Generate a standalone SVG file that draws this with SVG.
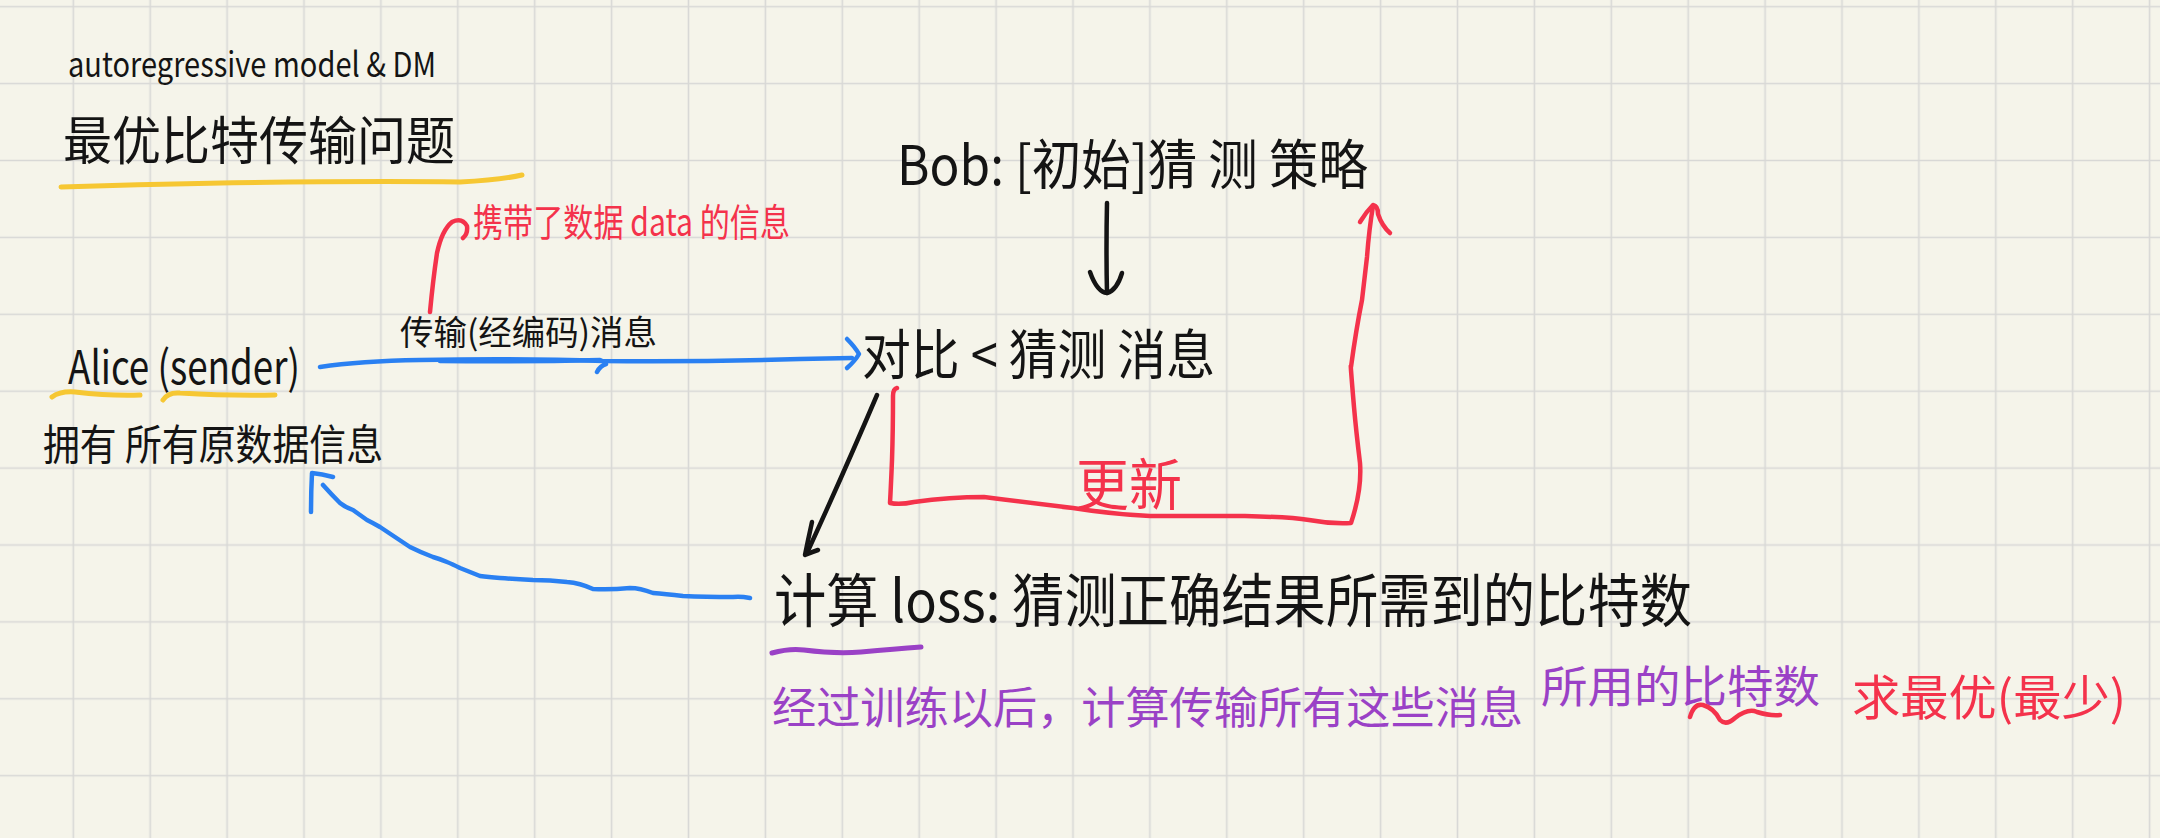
<svg xmlns="http://www.w3.org/2000/svg" width="2160" height="838" viewBox="0 0 2160 838">
<defs>
<pattern id="grid" x="-42.05" y="-31.75" width="76.9" height="76.9" patternUnits="userSpaceOnUse">
<path d="M38.45,0 V76.9 M0,38.45 H76.9" stroke="#d8d8d6" stroke-width="1.6" fill="none"/>
</pattern>
<style>
text{font-family:"Noto Sans CJK SC","Noto Sans",sans-serif;}
.k{fill:#141414;}
.r{fill:#f4324b;}
.p{fill:#9a41c6;}
.ink{fill:none;stroke-linecap:round;stroke-linejoin:round;}
.blk{stroke:#141414;stroke-width:4.5;}
.blu{stroke:#2a80f2;stroke-width:4.5;}
.red{stroke:#f4324b;stroke-width:4.5;}
.yel{stroke:#f6c733;stroke-width:5;}
.pur{stroke:#9a41c6;stroke-width:5;}
</style>
</defs>
<rect width="2160" height="838" fill="#f5f4ea"/>
<rect width="2160" height="838" fill="url(#grid)"/>

<g id="title">
<text class="k" x="68" y="77" font-size="34" textLength="368" lengthAdjust="spacingAndGlyphs">autoregressive model &amp; DM</text>
<text class="k" x="63" y="160" font-size="52" textLength="392" lengthAdjust="spacingAndGlyphs">最优比特传输问题</text>
<path class="ink yel" d="M61,187 Q300,180 460,182 Q500,180 522,175"/>
</g>

<g id="annotation">
<text class="r" x="473" y="236" font-size="38" textLength="317" lengthAdjust="spacingAndGlyphs">携带了数据 data 的信息</text>
</g>

<g id="message-label">
<text class="k" x="400" y="345" font-size="34" textLength="257" lengthAdjust="spacingAndGlyphs">传输(经编码)消息</text>
</g>

<g id="alice">
<text class="k" x="68" y="384" font-size="46" textLength="232" lengthAdjust="spacingAndGlyphs">Alice (sender)</text>
<path class="ink yel" d="M52,397 Q60,391 75,392 Q110,396 140,395"/>
<path class="ink yel" d="M163,400 Q168,392 180,393 Q230,396 275,395"/>
</g>

<g id="alice-desc">
<text class="k" x="43" y="460" font-size="42" textLength="340" lengthAdjust="spacingAndGlyphs">拥有 所有原数据信息</text>
</g>

<g id="bob-strategy">
<text class="k" x="897" y="185" font-size="54" textLength="471" lengthAdjust="spacingAndGlyphs">Bob: [初始]猜 测 策略</text>
</g>

<g id="guess-message">
<text class="k" x="862" y="375" font-size="54" textLength="353" lengthAdjust="spacingAndGlyphs">对比 &lt; 猜测 消息</text>
</g>

<g id="update-label">
<text class="r" x="1076" y="505" font-size="56" textLength="106" lengthAdjust="spacingAndGlyphs">更新</text>
</g>

<g id="loss">
<text class="k" x="774" y="622" font-size="58" textLength="918" lengthAdjust="spacingAndGlyphs">计算 loss: 猜测正确结果所需到的比特数</text>
<path class="ink pur" d="M772,653 Q790,648 804,650 Q835,654 861,652 Q895,649 921,647"/>
</g>

<g id="summary">
<text class="p" x="772" y="724" font-size="44" textLength="751" lengthAdjust="spacingAndGlyphs">经过训练以后，计算传输所有这些消息</text>
<text class="p" x="1541" y="703" font-size="44" textLength="279" lengthAdjust="spacingAndGlyphs">所用的比特数</text>
<path class="ink red" d="M1690,717 Q1694,703 1703,705 Q1714,708 1720,720 Q1726,726 1735,718 Q1748,708 1757,712 Q1770,716 1780,715"/>
<text class="r" x="1852" y="715" font-size="48" textLength="274" lengthAdjust="spacingAndGlyphs">求最优(最少)</text>
</g>

<g id="connectors">
<path class="ink red" d="M430,312 Q433,280 437,253 Q442,230 452,222 Q462,217 467,226 Q468,234 463,238"/>
<path class="ink blu" d="M320,367 Q360,361 420,360 Q520,358 603,361 Q700,362 800,359 L852,358" stroke-width="5"/>
<path class="ink blu" d="M440,361 Q520,362 600,360 M597,372 Q600,366 606,364" stroke-width="3"/>
<path class="ink blu" d="M847,339 Q855,347 859,354 Q855,361 847,368"/>
<path class="ink blk" d="M1107,203 Q1106,250 1107,293"/>
<path class="ink blk" d="M1090,272 Q1097,292 1107,293 Q1117,290 1122,273"/>
<path class="ink blk" d="M877,395 Q845,470 807,553"/>
<path class="ink blk" d="M812,522 Q808,540 805,555 Q812,552 818,550"/>
<path class="ink red" d="M897,388 Q893,389 893,396 Q893,430 892,460 Q891,485 890,503 Q900,505 914,502 Q950,497 984,497 Q1030,503 1073,508 Q1110,514 1150,516 Q1200,516 1245,516 Q1290,517 1309,520 Q1330,524 1351,523 Q1362,490 1360,463 Q1356,430 1354,407 Q1350,360 1351,367 Q1356,330 1362,300 Q1365,275 1367,257 Q1369,230 1373,206"/>
<path class="ink red" d="M1360,222 Q1366,212 1373,205 Q1378,206 1378,214 Q1382,226 1390,233"/>
<path class="ink blu" d="M750,598 Q740,596 733,597 Q705,597 683,596 Q665,594 653,593 Q640,588 630,588 Q610,590 593,589 Q580,583 567,582 Q550,580 533,580 Q515,579 500,578 Q488,577 480,576 Q470,572 460,568 Q452,564 447,562 Q440,559 433,557 Q420,552 410,547 Q395,537 380,527 Q373,523 367,520 Q360,515 353,510 Q345,507 340,503 Q332,495 323,485"/>
<path class="ink blu" d="M311,512 Q311,492 312,473 Q322,474 333,477"/>
</g>
</svg>
